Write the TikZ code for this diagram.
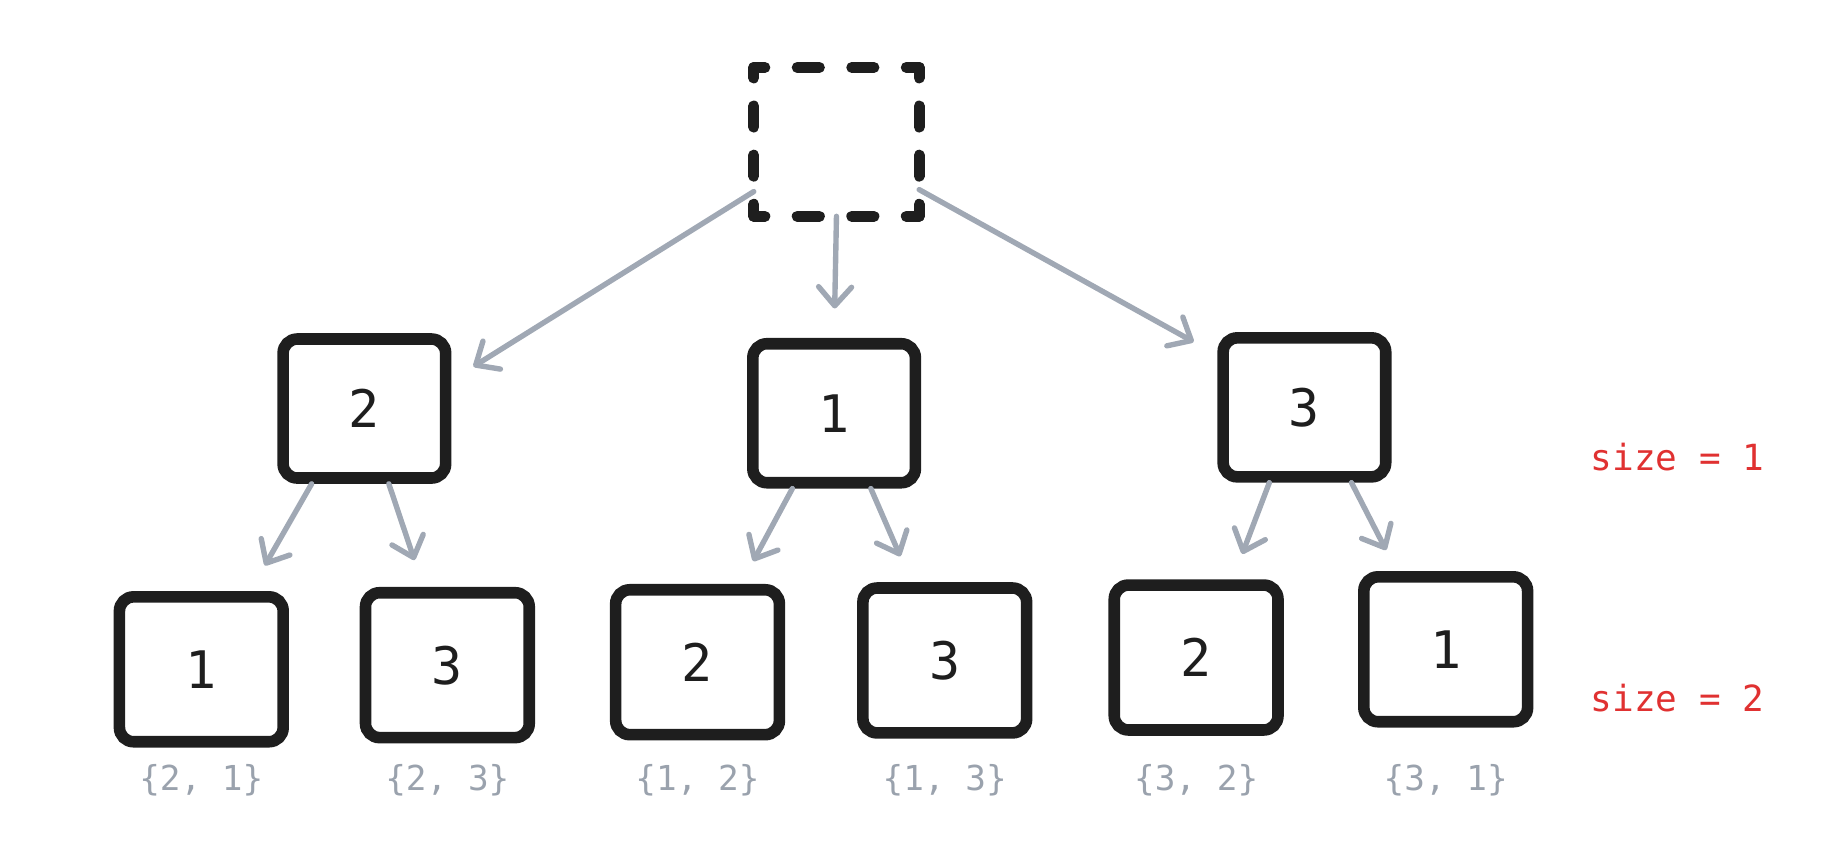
\documentclass[tikz,border=0pt]{standalone}
\usepackage{fontspec}
\setmonofont{DejaVu Sans Mono}
\usetikzlibrary{arrows.meta,positioning}

\definecolor{ink}{HTML}{1E1E1E}
\definecolor{edgegray}{HTML}{A0A8B4}
\definecolor{setgray}{HTML}{9AA2AD}
\definecolor{sizered}{HTML}{E03131}

\tikzset{
  pick/.style={draw=ink, line width=2.8pt, rounded corners=0.12cm, inner sep=0pt,
    minimum width=1.38cm, minimum height=1.18cm, font=\ttfamily\fontsize{12.5}{14}\selectfont, text=ink},
  leaf/.style={pick, minimum width=1.39cm, minimum height=1.23cm},
  rootside/.style={ink, line width=2.6pt, line cap=round},
  edge/.style={edgegray, line width=1.3pt, line cap=round,
    -{Straight Barb[length=1.6mm,width=2.8mm,round]}},
  setlabel/.style={inner sep=0pt, text=setgray, font=\ttfamily\fontsize{8.3}{10}\selectfont},
  sizelabel/.style={inner sep=0pt, text=sizered, font=\ttfamily\fontsize{8.7}{10}\selectfont},
}

\begin{document}
\begin{tikzpicture}[x=0.01cm, y=-0.01cm]

\useasboundingbox (0, 0) rectangle (1568, 736);

% empty root
\node[inner sep=0pt, minimum width=1.39cm, minimum height=1.25cm] (root) at (710.5, 120.5) {};
\draw[rootside, dash pattern=on 0.19cm off 0.273cm, dash phase=0.095cm] (root.north west) -- (root.north east);
\draw[rootside, dash pattern=on 0.19cm off 0.273cm, dash phase=0.095cm] (root.south west) -- (root.south east);
\draw[rootside, dash pattern=on 0.18cm off 0.237cm, dash phase=0.09cm] (root.north west) -- (root.south west);
\draw[rootside, dash pattern=on 0.18cm off 0.237cm, dash phase=0.09cm] (root.north east) -- (root.south east);

% size = 1
\node[pick] (b2) at (309.5, 347) {2};
\node[pick] (b1) at (708.5, 351) {1};
\node[pick] (b3) at (1108, 346) {3};

% size = 2
\node[leaf] (c1) at (171, 568.5) {1};
\node[leaf] (c2) at (380, 565) {3};
\node[leaf] (c3) at (592.5, 562.5) {2};
\node[leaf] (c4) at (802.5, 561) {3};
\node[leaf] (c5) at (1016, 558.5) {2};
\node[leaf] (c6) at (1228, 551.5) {1};

\coordinate (setline) at (0, 663);
\node[setlabel] (s1) at (c1 |- setline) {\{2, 1\}};
\node[setlabel] (s2) at (c2 |- setline) {\{2, 3\}};
\node[setlabel] (s3) at (c3 |- setline) {\{1, 2\}};
\node[setlabel] (s4) at (c4 |- setline) {\{1, 3\}};
\node[setlabel] (s5) at (c5 |- setline) {\{3, 2\}};
\node[setlabel] (s6) at (c6 |- setline) {\{3, 1\}};

\node[sizelabel] (size1) at (1425, 388) {size = 1};
\node[sizelabel] (size2) at (1425, 593) {size = 2};

% edges
\draw[edge, shorten >=0.22cm] (root.211) -- (b2.18);
\draw[edge, shorten >=0.25cm] (root.south) -- (b1.north);
\draw[edge, shorten >=0.23cm] (root.330) -- (b3.149);

\draw[edge, shorten >=0.25cm] (b2.235) -- (c1.58);
\draw[edge, shorten >=0.24cm] (b2.288) -- (c2.107);
\draw[edge, shorten >=0.22cm] (b1.241) -- (c3.61);
\draw[edge, shorten >=0.24cm] (b1.296) -- (c4.113);
\draw[edge, shorten >=0.23cm] (b3.245) -- (c5.65);
\draw[edge, shorten >=0.20cm] (b3.302) -- (c6.122);

\end{tikzpicture}
\end{document}
